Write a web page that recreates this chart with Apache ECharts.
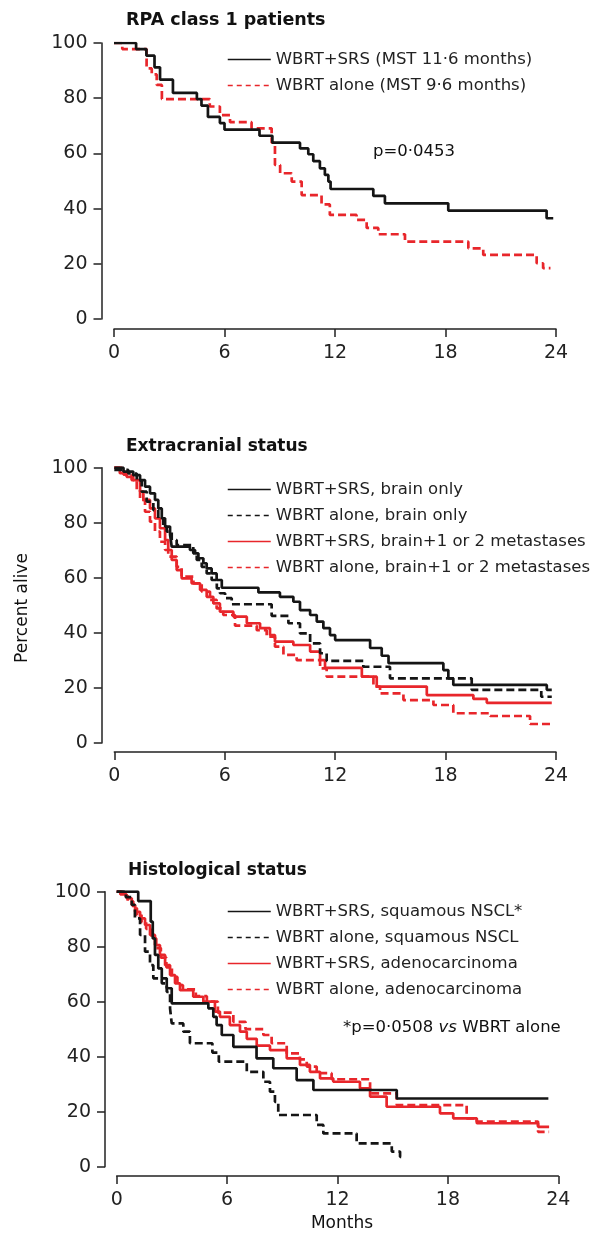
<!DOCTYPE html>
<html>
<head>
<meta charset="utf-8">
<script src="https://cdn.jsdelivr.net/npm/echarts@6/dist/echarts.min.js"></script>
<style>
  html, body { margin: 0; padding: 0; background: #fff; }
  #chart { width: 599px; height: 1235px; }
</style>
</head>
<body>
<div id="chart"></div>
<script>
// ticks
const monthTicks = [0, 6, 12, 18, 24];
const percentTicks = [0, 20, 40, 60, 80, 100];

// panel 1: RPA class 1 patients
const rpaSrsT = [0, 1.2, 1.76, 2.2, 2.5, 3.2, 4.5, 4.75, 5.1, 5.75, 6.0, 7.9, 8.6, 10.1, 10.55, 10.82, 11.18, 11.45, 11.64, 11.76, 14.08, 14.71, 18.15, 23.49, 23.85];
const rpaSrsS = [100, 97.8, 95.4, 91.2, 86.7, 81.9, 79.7, 77.3, 73.2, 71, 68.6, 66.4, 63.9, 61.8, 59.7, 57.2, 54.6, 52.2, 49.8, 47.1, 44.6, 41.9, 39.3, 36.5, 36.5];
const rpaAloneT = [0, 0.45, 1.77, 2.05, 2.32, 2.6, 5.2, 5.75, 6.3, 7.47, 8.56, 8.74, 9.02, 9.65, 10.19, 11.27, 11.72, 13.17, 13.72, 14.35, 15.8, 19.24, 20.05, 22.95, 23.3, 23.7];
const rpaAloneS = [100, 97.8, 90.8, 88.6, 84.8, 79.7, 77.0, 73.9, 71.3, 69.1, 63.9, 55.8, 52.8, 49.8, 44.9, 41.5, 37.7, 35.9, 33.0, 30.7, 28.0, 25.6, 23.2, 20.2, 18.4, 18.4];

// panel 2: extracranial status
const exSrsBrainT = [0, 0.5, 1.03, 1.4, 1.67, 1.94, 2.21, 2.39, 2.58, 2.76, 3.03, 3.12, 4.11, 4.39, 4.57, 4.84, 5.02, 5.29, 5.56, 5.84, 7.83, 9.0, 9.73, 10.09, 10.64, 11.0, 11.36, 11.72, 12.0, 13.9, 14.53, 14.9, 17.88, 18.15, 18.42, 23.5, 23.77];
const exSrsBrainS = [100, 98.6, 97.3, 95.5, 93.1, 90.7, 88.3, 85.2, 81.6, 78.6, 75.6, 71.3, 70.1, 68.9, 67.1, 65.3, 63.4, 61.6, 59.2, 56.4, 54.7, 53.1, 51.3, 48.3, 46.5, 44.1, 41.7, 39.2, 37.4, 34.5, 31.7, 29, 26.5, 23.5, 21.1, 19.3, 19.3];
const exAloneBrainT = [0, 0.76, 1.22, 1.49, 1.76, 2.12, 2.39, 2.66, 2.85, 3.12, 3.39, 4.29, 4.48, 4.75, 5.02, 5.29, 5.57, 5.74, 6.02, 6.38, 8.55, 9.46, 10.09, 10.64, 11.18, 11.54, 13.53, 14.98, 19.42, 23.2, 23.77];
const exAloneBrainS = [99.2, 97.9, 95.3, 91.3, 87.7, 84.6, 81.6, 78.6, 76.8, 73.7, 71.9, 68.9, 66.5, 64.0, 61.6, 59.2, 56.2, 54.4, 52.6, 50.4, 46.2, 43.5, 39.8, 36.2, 32.6, 29.8, 27.7, 23.5, 19.3, 16.8, 16.8];
const exSrsMetsT = [0, 0.3, 0.67, 1.03, 1.4, 1.58, 1.94, 2.21, 2.48, 2.76, 2.93, 3.12, 3.39, 3.66, 4.2, 4.66, 5.02, 5.38, 5.74, 6.47, 7.2, 7.92, 8.46, 8.73, 9.73, 10.64, 11.18, 11.45, 13.45, 14.26, 16.98, 19.51, 20.24, 23.77];
const exSrsMetsS = [100, 98, 96.7, 95.5, 91.3, 88.3, 85.2, 81.6, 78.0, 73.7, 70.1, 66.5, 62.8, 59.8, 58.0, 55.6, 53.1, 50.7, 47.7, 45.9, 43.5, 41.7, 39.2, 36.8, 35.6, 33.2, 30.1, 27.3, 24.1, 20.5, 17.4, 16.0, 14.6, 14.6];
const exAloneMetsT = [0, 0.5, 0.94, 1.22, 1.4, 1.67, 1.94, 2.21, 2.48, 2.76, 2.93, 3.39, 3.66, 4.3, 4.75, 5.2, 5.56, 5.92, 6.56, 7.74, 8.28, 8.73, 9.19, 9.91, 11.18, 11.54, 14.08, 14.44, 15.71, 17.34, 18.42, 20.42, 22.59, 23.77];
const exAloneMetsS = [100, 97.5, 95.5, 91.9, 88.3, 84.0, 80.4, 76.8, 73.1, 70.1, 67.7, 64.0, 60.4, 58.0, 55.0, 52.0, 48.9, 46.5, 42.6, 41.0, 38.6, 35.0, 32.0, 30.1, 27.1, 24.1, 20.5, 18.0, 15.6, 13.8, 10.8, 9.8, 6.9, 6.9];

// panel 3: histological status
const hiSrsSqT = [0, 1.17, 1.85, 1.96, 2.08, 2.26, 2.45, 2.72, 2.99, 4.98, 5.25, 5.43, 5.71, 6.34, 7.6, 8.51, 9.78, 10.69, 15.22, 23.46];
const hiSrsSqS = [100, 96.6, 89.1, 83.0, 77.0, 72.1, 68.5, 64.9, 59.4, 57.6, 54.5, 51.5, 47.9, 43.6, 39.4, 35.8, 31.5, 27.9, 24.8, 24.8];
const hiAloneSqT = [0, 0.5, 0.82, 0.99, 1.27, 1.54, 1.81, 1.99, 2.45, 2.72, 2.9, 2.99, 3.62, 3.98, 5.2, 5.55, 7.07, 7.97, 8.33, 8.6, 8.78, 10.87, 11.23, 13.04, 14.95, 15.4, 15.67];
const hiAloneSqS = [100, 98, 95.2, 90.3, 84.3, 78.2, 73.3, 68.5, 66.7, 63.6, 57.6, 52.1, 49.1, 44.9, 41.5, 38.2, 34.5, 30.9, 27.3, 23.6, 18.8, 15.2, 12.1, 8.5, 5.5, 3.6, 3.6];
const hiSrsAdT = [0, 0.2, 0.54, 0.82, 1.0, 1.27, 1.54, 1.81, 2.08, 2.35, 2.63, 2.9, 3.17, 3.44, 4.16, 4.71, 5.34, 5.61, 6.15, 6.7, 7.07, 7.61, 8.33, 9.24, 9.96, 10.5, 11.05, 11.77, 13.22, 13.77, 14.67, 17.57, 18.29, 19.57, 22.9, 23.5];
const hiSrsAdS = [100, 99, 97.6, 95.2, 92.7, 90.3, 87.9, 84.3, 80.6, 77.0, 73.3, 69.7, 66.7, 64.2, 61.8, 60.0, 56.4, 54.5, 51.5, 49.1, 46.5, 44.0, 42.4, 39.4, 37.0, 34.5, 32.1, 30.9, 28.5, 25.5, 21.8, 19.4, 17.6, 15.8, 14.5, 14.5];
const hiAloneAdT = [0, 0.3, 0.6, 0.9, 1.1, 1.35, 1.6, 1.9, 2.15, 2.4, 2.7, 3.0, 3.3, 3.6, 4.3, 4.9, 5.5, 6.34, 7.0, 7.97, 8.42, 9.24, 9.96, 10.33, 10.87, 11.68, 13.77, 15.22, 19.02, 19.57, 22.9, 23.5];
const hiAloneAdS = [100, 98.5, 96.5, 94, 91.5, 89, 86.5, 83, 79.5, 76, 72.5, 69, 66, 64.5, 62, 60, 56, 52.7, 50, 47.9, 44.9, 41.2, 39.0, 36.4, 34.0, 31.8, 26.7, 22.4, 17.6, 16.4, 12.7, 12.7];

const BLACK = '#151515';
const RED = '#e8262b';
const FONT = 'DejaVu Sans';

const chart = echarts.init(document.getElementById('chart'));

const grids = [
  { left: 114, top: 43, width: 442, height: 276 },
  { left: 114.3, top: 467.7, width: 441.7, height: 275.3 },
  { left: 116.7, top: 891.7, width: 441.6, height: 275 }
];
const yOffsets = [12.5, 12.5, 11.7];
const xOffsets = [10, 9, 9.3];

const axisLine = { show: true, onZero: false, lineStyle: { color: '#222', width: 1.5 } };
const axisTick = { show: true, inside: false, length: 8, lineStyle: { color: '#222', width: 1.5 } };

const xAxes = grids.map((g, i) => ({
  gridIndex: i, type: 'value', min: monthTicks[0], max: monthTicks[monthTicks.length - 1], interval: 6,
  offset: xOffsets[i], axisLine, axisTick, splitLine: { show: false },
  axisLabel: { fontSize: 19, color: '#222', fontFamily: FONT, margin: 15 }
}));
const yAxes = grids.map((g, i) => ({
  gridIndex: i, type: 'value', min: percentTicks[0], max: percentTicks[percentTicks.length - 1], interval: 20,
  offset: yOffsets[i], axisLine, axisTick, splitLine: { show: false },
  axisLabel: { fontSize: 19, color: '#222', fontFamily: FONT, margin: 14 }
}));

function km(name, idx, T, S, color, dash) {
  return {
    name, type: 'line', xAxisIndex: idx, yAxisIndex: idx, step: 'end',
    symbol: 'none', silent: true, animation: false,
    data: T.map((t, k) => [t, S[k]]),
    lineStyle: { color, width: 2.7, type: dash ? [8, 4] : 'solid' },
    itemStyle: { color }
  };
}

const p1 = ['WBRT+SRS (MST 11·6 months)', 'WBRT alone (MST 9·6 months)'];
const p2 = ['WBRT+SRS, brain only', 'WBRT alone, brain only', 'WBRT+SRS, brain+1 or 2 metastases', 'WBRT alone, brain+1 or 2 metastases'];
const p3 = ['WBRT+SRS, squamous NSCL*', 'WBRT alone, squamous NSCL', 'WBRT+SRS, adenocarcinoma', 'WBRT alone, adenocarcinoma'];

const series = [
  km(p1[1], 0, rpaAloneT, rpaAloneS, RED, true),
  km(p1[0], 0, rpaSrsT, rpaSrsS, BLACK, false),
  km(p2[3], 1, exAloneMetsT, exAloneMetsS, RED, true),
  km(p2[2], 1, exSrsMetsT, exSrsMetsS, RED, false),
  km(p2[1], 1, exAloneBrainT, exAloneBrainS, BLACK, true),
  km(p2[0], 1, exSrsBrainT, exSrsBrainS, BLACK, false),
  km(p3[3], 2, hiAloneAdT, hiAloneAdS, RED, true),
  km(p3[2], 2, hiSrsAdT, hiSrsAdS, RED, false),
  km(p3[1], 2, hiAloneSqT, hiAloneSqS, BLACK, true),
  km(p3[0], 2, hiSrsSqT, hiSrsSqS, BLACK, false)
];

const dashed = { width: 1.5, type: [5, 4] };
const solid = { width: 1.5, type: 'solid' };
function legend(names, styles, top) {
  return {
    data: names.map((n, k) => ({ name: n, lineStyle: styles[k] })),
    orient: 'vertical', left: 222, top, itemWidth: 43, itemHeight: 14, itemGap: 9,
    selectedMode: false,
    itemStyle: { opacity: 0, borderWidth: 0 },
    textStyle: { fontSize: 16.5, color: '#222', fontFamily: FONT, lineHeight: 14 }
  };
}

function txt(text, x, y, font, align) {
  return {
    type: 'text', x, y,
    style: { text, fill: '#111', font, textVerticalAlign: 'middle', textAlign: align || 'left' }
  };
}

chart.setOption({
  backgroundColor: '#fff',
  animation: false,
  grid: grids,
  xAxis: xAxes,
  yAxis: yAxes,
  legend: [
    legend(p1, [solid, dashed], 46),
    legend(p2, [solid, dashed, solid, dashed], 476),
    legend(p3, [solid, dashed, solid, dashed], 898)
  ],
  series,
  graphic: [
    txt('RPA class 1 patients', 126, 20, 'bold 17.5px "DejaVu Sans"'),
    txt('Extracranial status', 126, 447, 'bold 17px "DejaVu Sans"'),
    txt('Histological status', 128, 871, 'bold 17px "DejaVu Sans"'),
    txt('p=0·0453', 373, 152, '16.5px "DejaVu Sans"'),
    {
      type: 'text', x: 343, y: 1028,
      style: {
        text: '*p=0·0508 {i|vs} WBRT alone', fill: '#111', font: '16.5px "DejaVu Sans"',
        textVerticalAlign: 'middle',
        rich: { i: { fontStyle: 'italic', fontSize: 16.5, fontFamily: FONT, fill: '#111' } }
      }
    },
    {
      type: 'text', x: 23, y: 608, rotation: Math.PI / 2,
      style: { text: 'Percent alive', fill: '#111', font: '17px "DejaVu Sans"', textAlign: 'center', textVerticalAlign: 'middle' }
    },
    txt('Months', 342, 1224, '17px "DejaVu Sans"', 'center')
  ]
});
</script>
</body>
</html>
